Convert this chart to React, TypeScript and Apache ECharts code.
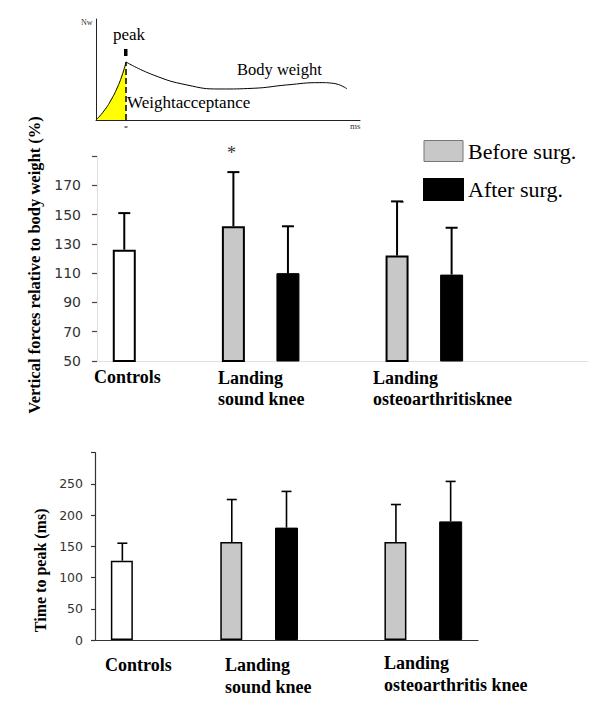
import React, { useEffect, useRef } from 'react';
import * as echarts from 'echarts';

// ---------- data ----------
const topSlots = ['Controls', 'gap1', 'Sound before', 'Sound after', 'gap2', 'OA before', 'OA after', 'gap3', 'gap4'];
const bottomSlots = ['Controls', 'gap1', 'Sound before', 'Sound after', 'gap2', 'OA before', 'OA after'];
const controlsSlot = 0;
const beforeSlots = [2, 5];
const afterSlots = [3, 6];

// Vertical forces relative to body weight (%)
const forceControlsMean = 126;
const forceControlsTop = 151;
const forceBeforeMean = [142, 122];
const forceBeforeTop = [179, 159];
const forceAfterMean = [110, 109];
const forceAfterTop = [142, 141];

// Time to peak (ms)
const timeControlsMean = 127;
const timeControlsTop = 155;
const timeBeforeMean = [157, 157];
const timeBeforeTop = [225, 217];
const timeAfterMean = [180, 190];
const timeAfterTop = [238, 254];

// Inset schematic curve (relative units 0..100)
const risePts = [[0, 0], [3.0, 8.9], [5.7, 19.8], [8.0, 31.7], [9.8, 43.6], [11.4, 57.4]];
const decayPts = [[11.4, 57.4], [21.7, 44.6], [34.4, 34.7], [47.0, 30.7], [59.6, 31.4], [72.2, 34.7], [84.8, 37.0], [89.9, 36.3], [95.0, 31.0]];

const topGroupLabels = ['Controls', 'Landing\nsound knee', 'Landing\nosteoarthritisknee'];
const bottomGroupLabels = ['Controls', 'Landing\nsound knee', 'Landing\nosteoarthritis knee'];
const legendNames = ['Before surg.', 'After surg.'];

const SERIF = 'Liberation Serif';

function fill(n: number, idx: number[], vals: number[]) {
  const a: any[] = new Array(n).fill('-');
  idx.forEach((i, k) => (a[i] = vals[k]));
  return a;
}

function errData(idx: number[], means: number[], tops: number[]) {
  return idx.map((i, k) => [i, means[k], tops[k]]);
}

const makeErr = (capHalf: number, lw: number) => (params: any, api: any) => {
  const x = api.value(0);
  const lo = api.value(1);
  const hi = api.value(2);
  const p1 = api.coord([x, lo]);
  const p2 = api.coord([x, hi]);
  return {
    type: 'group',
    children: [
      { type: 'line', shape: { x1: p1[0], y1: p1[1], x2: p2[0], y2: p2[1] }, style: { stroke: '#000', lineWidth: lw } },
      { type: 'line', shape: { x1: p2[0] - capHalf, y1: p2[1], x2: p2[0] + capHalf, y2: p2[1] }, style: { stroke: '#000', lineWidth: lw } },
    ],
  };
};

export default function App() {
  const ref = useRef<HTMLDivElement>(null);
  useEffect(() => {
    if (!ref.current) return;
    const chart = echarts.init(ref.current, undefined, { renderer: 'svg' });
    const nT = topSlots.length;
    const nB = bottomSlots.length;
    const peak = risePts[risePts.length - 1];

    const catLabel = (text: string, x: number, y: number, lh: number) => ({
      type: 'text',
      left: x,
      top: y,
      style: { text, fontFamily: SERIF, fontWeight: 'bold', fontSize: 18, lineHeight: lh, fill: '#000' },
    });

    const option: any = {
      animation: false,
      backgroundColor: '#fff',
      legend: {
        data: [
          { name: legendNames[0], itemStyle: { borderColor: '#777', borderWidth: 1 } },
          { name: legendNames[1] },
        ],
        orient: 'vertical',
        left: 418,
        top: 135,
        itemWidth: 39,
        itemHeight: 21,
        itemGap: 16,
        icon: 'rect',
        selectedMode: false,
        textStyle: { fontFamily: SERIF, fontSize: 22, color: '#000', lineHeight: 21 },
      },
      grid: [
        { left: 97, top: 156, width: 491, height: 205 },
        { left: 95, top: 452.7, width: 383, height: 187.3 },
        { left: 96, top: 19, width: 264, height: 101 },
      ],
      xAxis: [
        {
          type: 'category', gridIndex: 0, data: topSlots,
          axisLine: { lineStyle: { color: '#e0e0e0', width: 1 } },
          axisTick: { show: false }, axisLabel: { show: false },
        },
        {
          type: 'category', gridIndex: 1, data: bottomSlots,
          axisLine: { lineStyle: { color: '#333', width: 1.2 } },
          axisTick: { show: false }, axisLabel: { show: false },
        },
        {
          type: 'value', gridIndex: 2, min: 0, max: 100,
          axisLine: { show: true, lineStyle: { color: '#222', width: 1 } },
          axisTick: { show: false }, axisLabel: { show: false }, splitLine: { show: false },
        },
      ],
      yAxis: [
        {
          type: 'value', gridIndex: 0, min: 50, max: 190, interval: 20,
          axisLine: { show: true, lineStyle: { color: '#e0e0e0', width: 1 } },
          axisTick: { show: true, length: 5, lineStyle: { color: '#444', width: 1.2 } },
          axisLabel: {
            margin: 16, fontFamily: 'DejaVu Sans', fontSize: 14, color: '#333',
            formatter: (v: number) => (v === 190 ? '' : String(v)),
          },
          splitLine: { show: false },
          name: 'Vertical forces relative to body weight (%)',
          nameLocation: 'middle', nameRotate: 90, nameGap: 41,
          nameTextStyle: { fontFamily: SERIF, fontWeight: 'bold', fontSize: 16.5, color: '#000', padding: [0, 13, 0, 0] },
        },
        {
          type: 'value', gridIndex: 1, min: 0, max: 300, interval: 50,
          axisLine: { show: true, lineStyle: { color: '#333', width: 1.2 } },
          axisTick: { show: true, length: 4, lineStyle: { color: '#333', width: 1.2 } },
          axisLabel: {
            margin: 12, fontFamily: 'DejaVu Sans', fontSize: 12.5, color: '#333',
            formatter: (v: number) => (v === 300 ? '' : String(v)),
          },
          splitLine: { show: false },
          name: 'Time to peak (ms)',
          nameLocation: 'middle', nameRotate: 90, nameGap: 45,
          nameTextStyle: { fontFamily: SERIF, fontWeight: 'bold', fontSize: 16, color: '#000', padding: [0, 48, 0, 0] },
        },
        {
          type: 'value', gridIndex: 2, min: 0, max: 100,
          axisLine: { show: true, lineStyle: { color: '#222', width: 1 } },
          axisTick: { show: false }, axisLabel: { show: false }, splitLine: { show: false },
        },
      ],
      series: [
        // top chart
        {
          name: 'Controls', type: 'bar', xAxisIndex: 0, yAxisIndex: 0, barWidth: 23, barGap: '-100%',
          data: fill(nT, [controlsSlot], [forceControlsMean]),
          itemStyle: { color: '#fff', borderColor: '#000', borderWidth: 2 },
        },
        {
          name: legendNames[0], type: 'bar', xAxisIndex: 0, yAxisIndex: 0, barWidth: 23, barGap: '-100%',
          data: fill(nT, beforeSlots, forceBeforeMean),
          itemStyle: { color: '#c8c8c8', borderColor: '#000', borderWidth: 2 },
        },
        {
          name: legendNames[1], type: 'bar', xAxisIndex: 0, yAxisIndex: 0, barWidth: 23, barGap: '-100%',
          data: fill(nT, afterSlots, forceAfterMean),
          itemStyle: { color: '#000', borderColor: '#000', borderWidth: 1 },
        },
        {
          type: 'custom', xAxisIndex: 0, yAxisIndex: 0, renderItem: makeErr(6, 2), z: 5,
          encode: { x: 0, y: [1, 2] },
          data: [
            ...errData([controlsSlot], [forceControlsMean], [forceControlsTop]),
            ...errData(beforeSlots, forceBeforeMean, forceBeforeTop),
            ...errData(afterSlots, forceAfterMean, forceAfterTop),
          ],
        },
        // bottom chart
        {
          name: 'Controls', type: 'bar', xAxisIndex: 1, yAxisIndex: 1, barWidth: 22, barGap: '-100%',
          data: fill(nB, [controlsSlot], [timeControlsMean]),
          itemStyle: { color: '#fff', borderColor: '#000', borderWidth: 1.5 },
        },
        {
          name: legendNames[0], type: 'bar', xAxisIndex: 1, yAxisIndex: 1, barWidth: 22, barGap: '-100%',
          data: fill(nB, beforeSlots, timeBeforeMean),
          itemStyle: { color: '#c8c8c8', borderColor: '#000', borderWidth: 1.5 },
        },
        {
          name: legendNames[1], type: 'bar', xAxisIndex: 1, yAxisIndex: 1, barWidth: 23, barGap: '-100%',
          data: fill(nB, afterSlots, timeAfterMean),
          itemStyle: { color: '#000', borderColor: '#000', borderWidth: 1 },
        },
        {
          type: 'custom', xAxisIndex: 1, yAxisIndex: 1, renderItem: makeErr(5, 1.6), z: 5,
          encode: { x: 0, y: [1, 2] },
          data: [
            ...errData([controlsSlot], [timeControlsMean], [timeControlsTop]),
            ...errData(beforeSlots, timeBeforeMean, timeBeforeTop),
            ...errData(afterSlots, timeAfterMean, timeAfterTop),
          ],
        },
        // inset schematic
        {
          type: 'line', xAxisIndex: 2, yAxisIndex: 2, data: risePts, smooth: true, symbol: 'none',
          lineStyle: { color: '#000', width: 1 },
          areaStyle: { color: '#ffff00', opacity: 1 },
          markLine: {
            symbol: 'none', silent: true, label: { show: false },
            lineStyle: { type: 'dashed', color: '#000', width: 1.5 },
            data: [[{ coord: [peak[0], 0] }, { coord: [peak[0], peak[1]] }]],
          },
        },
        {
          type: 'line', xAxisIndex: 2, yAxisIndex: 2, data: decayPts, smooth: true, symbol: 'none',
          lineStyle: { color: '#000', width: 1 },
        },
      ],
      graphic: [
        { type: 'text', left: 81, top: 18, style: { text: 'Nw', fontFamily: SERIF, fontSize: 8, fill: '#333' } },
        { type: 'text', left: 350, top: 121, style: { text: 'ms', fontFamily: SERIF, fontSize: 9, fill: '#333' } },
        { type: 'text', left: 113, top: 26, style: { text: 'peak', fontFamily: SERIF, fontSize: 17, fill: '#000' } },
        { type: 'rect', shape: { x: 124, y: 49, width: 3.5, height: 7 }, style: { fill: '#000' } },
        { type: 'line', shape: { x1: 124.5, y1: 127, x2: 127.5, y2: 127 }, style: { stroke: '#000', lineWidth: 1 } },
        { type: 'text', left: 237, top: 61, style: { text: 'Body weight', fontFamily: SERIF, fontSize: 16.5, fill: '#000' } },
        { type: 'text', left: 127, top: 94, style: { text: 'Weightacceptance', fontFamily: SERIF, fontSize: 17, fill: '#000' } },
        { type: 'text', left: 227, top: 144, style: { text: '*', fontFamily: SERIF, fontSize: 18, fill: '#333' } },
        { type: 'line', shape: { x1: 400, y1: 202, x2: 404, y2: 202 }, style: { stroke: '#333', lineWidth: 1 } },
        catLabel(topGroupLabels[0], 94, 366, 21),
        catLabel(topGroupLabels[1], 218, 367, 21),
        catLabel(topGroupLabels[2], 373, 367, 21),
        catLabel(bottomGroupLabels[0], 105, 654, 22),
        catLabel(bottomGroupLabels[1], 225, 654, 22),
        catLabel(bottomGroupLabels[2], 384, 652, 22),
      ],
    };
    chart.setOption(option);
    return () => chart.dispose();
  }, []);
  return <div ref={ref} style={{ position: 'absolute', left: 0, top: 0, width: 600, height: 726 }} />;
}
